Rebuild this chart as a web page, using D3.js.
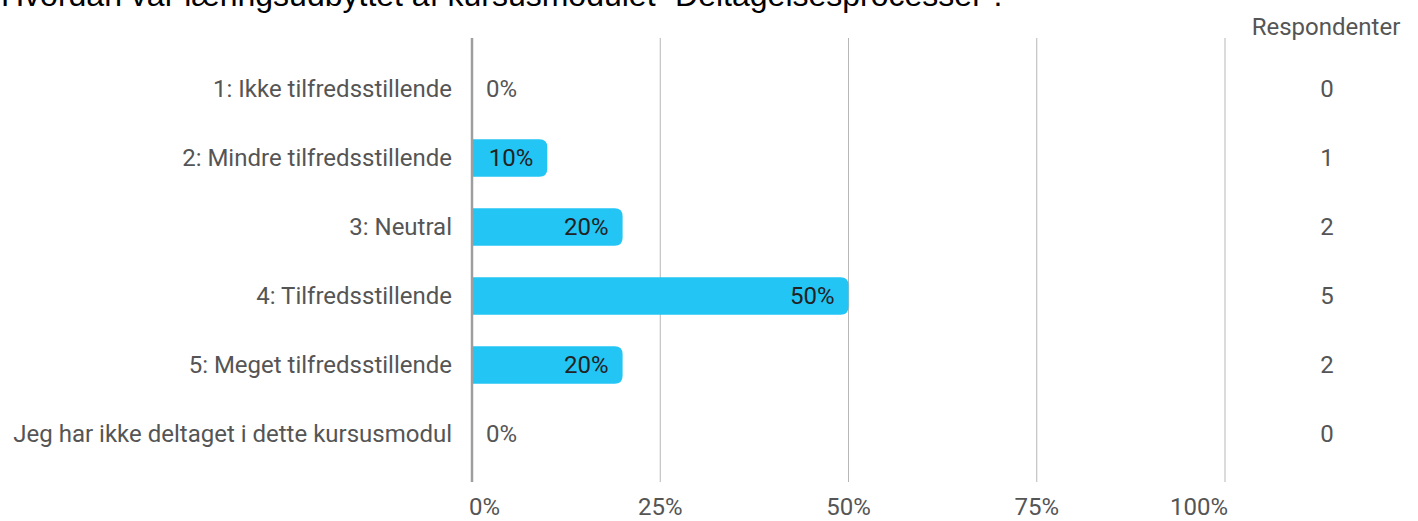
<!DOCTYPE html>
<html>
<head>
<meta charset="utf-8">
<script src="https://cdn.jsdelivr.net/npm/d3@7"></script>
<style>
  body { margin: 0; background: #fff; }
  text { font-family: Roboto, "Noto Sans", sans-serif; }
</style>
</head>
<body>
<div id="chart"></div>
<script>
// data
const categories = [
  "1: Ikke tilfredsstillende",
  "2: Mindre tilfredsstillende",
  "3: Neutral",
  "4: Tilfredsstillende",
  "5: Meget tilfredsstillende",
  "Jeg har ikke deltaget i dette kursusmodul"
];
const shares = [0, 0.10, 0.20, 0.50, 0.20, 0];
const respondents = [0, 1, 2, 5, 2, 0];
const xTicks = [0, 0.25, 0.5, 0.75, 1];
const title = "Hvordan var læringsudbyttet af kursusmodulet \u201cDeltagelsesprocesser\u201d.";

const W = 1418, H = 521;
const fs = 24;

const svg = d3.select("#chart").append("svg")
  .attr("width", W)
  .attr("height", H);

const x = d3.scaleLinear().domain([0, 1]).range([472, 1225]);
const y = d3.scaleBand().domain(categories)
  .range([54.5, 468.5])
  .paddingInner(0.46)
  .paddingOuter(0.23);

// title (cut at top)
svg.append("text")
  .attr("x", 1)
  .attr("y", 6)
  .attr("font-size", 32)
  .attr("fill", "#000")
  .style("font-family", "'Liberation Sans', Arial, sans-serif")
  .text(title);

// gridlines
svg.append("g")
  .selectAll("line")
  .data(xTicks.slice(1))
  .enter().append("line")
  .attr("x1", d => x(d)).attr("x2", d => x(d))
  .attr("y1", 38).attr("y2", 482)
  .attr("stroke", "#b7b7b7")
  .attr("stroke-width", 1);

// x tick labels (end ones kept inside the plot)
svg.append("g")
  .selectAll("text")
  .data(xTicks)
  .enter().append("text")
  .attr("x", d => d === 0 ? x(d) - 3 : d === 1 ? x(d) + 3 : x(d))
  .attr("y", 515)
  .attr("text-anchor", d => d === 0 ? "start" : d === 1 ? "end" : "middle")
  .attr("font-size", fs)
  .attr("fill", "#555")
  .text(d3.format(".0%"));

// bars with rounded right end
function barPath(d) {
  const x0 = x(0), x1 = x(d.v), y0 = y(d.c), h = y.bandwidth();
  const r = Math.min(8, (x1 - x0));
  return "M" + x0 + "," + y0 +
    "H" + (x1 - r) +
    "Q" + x1 + "," + y0 + " " + x1 + "," + (y0 + r) +
    "V" + (y0 + h - r) +
    "Q" + x1 + "," + (y0 + h) + " " + (x1 - r) + "," + (y0 + h) +
    "H" + x0 + "Z";
}

const rows = categories.map((c, i) => ({c: c, v: shares[i], n: respondents[i]}));

svg.append("g")
  .selectAll("path")
  .data(rows.filter(d => d.v > 0))
  .enter().append("path")
  .attr("d", barPath)
  .attr("fill", "#23c5f5");

// axis line
svg.append("line")
  .attr("x1", x(0)).attr("x2", x(0))
  .attr("y1", 38).attr("y2", 482)
  .attr("stroke", "#9e9e9e")
  .attr("stroke-width", 2.5);

// category labels
svg.append("g")
  .selectAll("text")
  .data(rows)
  .enter().append("text")
  .attr("x", 452)
  .attr("y", d => y(d.c) + y.bandwidth() / 2)
  .attr("dy", "0.35em")
  .attr("text-anchor", "end")
  .attr("font-size", fs)
  .attr("fill", "#555")
  .text(d => d.c);

// value labels
svg.append("g")
  .selectAll("text")
  .data(rows)
  .enter().append("text")
  .attr("x", d => d.v > 0 ? x(d.v) - 14 : x(0) + 14)
  .attr("y", d => y(d.c) + y.bandwidth() / 2)
  .attr("dy", "0.35em")
  .attr("text-anchor", d => d.v > 0 ? "end" : "start")
  .attr("font-size", fs)
  .attr("fill", d => d.v > 0 ? "#222" : "#555")
  .text(d => d3.format(".0%")(d.v));

// respondent counts
svg.append("text")
  .attr("x", 1326)
  .attr("y", 35)
  .attr("text-anchor", "middle")
  .attr("font-size", fs)
  .attr("fill", "#555")
  .text("Respondenter");

svg.append("g")
  .selectAll("text")
  .data(rows)
  .enter().append("text")
  .attr("x", 1327)
  .attr("y", d => y(d.c) + y.bandwidth() / 2)
  .attr("dy", "0.35em")
  .attr("text-anchor", "middle")
  .attr("font-size", fs)
  .attr("fill", "#555")
  .text(d => d.n);
</script>
</body>
</html>
